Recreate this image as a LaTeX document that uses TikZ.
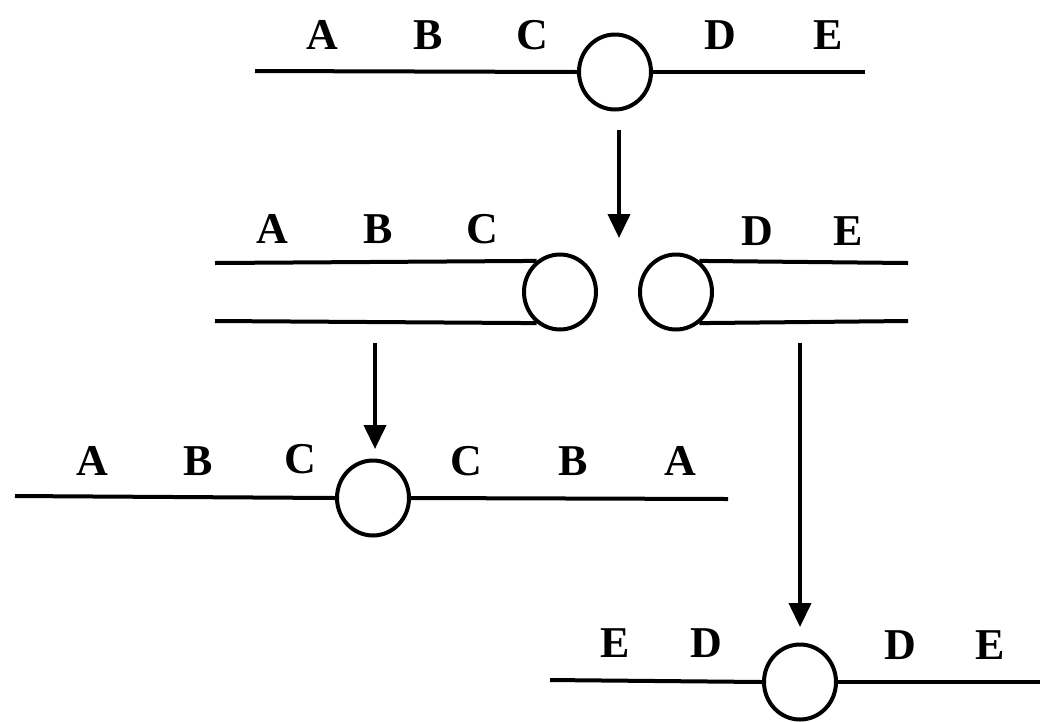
\documentclass[tikz,border=0pt]{standalone}
\usepackage{fontspec}
\setmainfont{Liberation Serif}
\usetikzlibrary{shapes.geometric,arrows.meta}
\begin{document}
\begin{tikzpicture}[x=1pt,y=-1pt,
  lbl/.style={font=\fontsize{44}{44}\selectfont\bfseries, inner sep=0pt},
  cen/.style={draw, ellipse, line width=4pt, minimum width=72pt, minimum height=75pt, inner sep=0pt},
  chrom/.style={line width=4pt},
  arr/.style={line width=4pt, -{Triangle[length=24pt,width=22pt]}}]
\useasboundingbox (0,0) rectangle (1040,721);
% row 1
\node[cen] (c1) at (615,72) {};
\coordinate (l1) at (255,71);
\coordinate (r1) at (865,72);
\draw[chrom] (l1) -- (c1.west);
\draw[chrom] (c1.east) -- (r1);
\node[lbl] (a1) at (322,35) {A};
\node[lbl] (b1) at (428,35) {B};
\node[lbl] (cc1) at (532,35) {C};
\node[lbl] (d1) at (720,35) {D};
\node[lbl] (e1) at (828,35) {E};
% arrow 1
\coordinate (s1) at (619,130);
\coordinate (t1) at (619,238);
\draw[arr] (s1) -- (t1);
% row 2
\node[cen] (c2l) at (560,292) {};
\node[cen] (c2r) at (676,292) {};
\coordinate (l2a) at (215,263);
\coordinate (l2b) at (215,321);
\coordinate (r2a) at (908,263);
\coordinate (r2b) at (908,321);
\draw[chrom] (l2a) -- (c2l.127);
\draw[chrom] (l2b) -- (c2l.233);
\draw[chrom] (c2r.53) -- (r2a);
\draw[chrom] (c2r.-53) -- (r2b);
\node[lbl] (a2) at (272,229) {A};
\node[lbl] (b2) at (378,229) {B};
\node[lbl] (cc2) at (482,229) {C};
\node[lbl] (d2) at (757,231) {D};
\node[lbl] (e2) at (848,231) {E};
% arrows 2,3
\coordinate (s2) at (375,343);
\coordinate (t2) at (375,449);
\draw[arr] (s2) -- (t2);
\coordinate (s3) at (800,343);
\coordinate (t3) at (800,627);
\draw[arr] (s3) -- (t3);
% row 3
\node[cen] (c3) at (373,498) {};
\coordinate (l3) at (15,496);
\coordinate (r3) at (728,499);
\draw[chrom] (l3) -- (c3.west);
\draw[chrom] (c3.east) -- (r3);
\node[lbl] (a3) at (92,461) {A};
\node[lbl] (b3) at (198,461) {B};
\node[lbl] (cc3) at (300,459) {C};
\node[lbl] (cc3r) at (466,461) {C};
\node[lbl] (b3r) at (573,461) {B};
\node[lbl] (a3r) at (680,461) {A};
% row 4
\node[cen] (c4) at (800,682) {};
\coordinate (l4) at (550,680);
\coordinate (r4) at (1040,682);
\draw[chrom] (l4) -- (c4.west);
\draw[chrom] (c4.east) -- (r4);
\node[lbl] (e4) at (615,643) {E};
\node[lbl] (d4) at (706,643) {D};
\node[lbl] (d4r) at (900,645) {D};
\node[lbl] (e4r) at (990,645) {E};
\end{tikzpicture}
\end{document}
